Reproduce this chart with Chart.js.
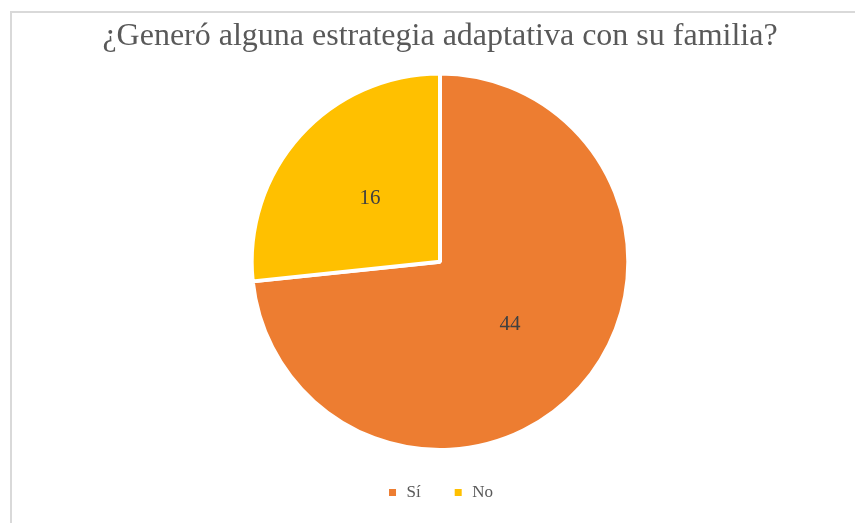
<!DOCTYPE html>
<html>
<head>
<meta charset="utf-8">
<script src="https://cdn.jsdelivr.net/npm/chart.js@4.4.0/dist/chart.umd.min.js"></script>
<style>
    html, body { margin: 0; padding: 0; background: #fff; overflow: hidden; }
    #frame {
        position: absolute;
        left: 10px;
        top: 11px;
        width: 860px;
        height: 520px;
        border-top: 2px solid #d9d9d9;
        border-left: 2px solid #d9d9d9;
    }
    #chart { display: block; }
</style>
</head>
<body>
<div id="frame"><canvas id="chart" width="860" height="511"></canvas></div>
<script>
const labels = ['Sí', 'No'];
const counts = [44, 16];
const sliceColors = ['#ED7D31', '#FFC000'];

// writes each count in the middle of its slice
const sliceValues = {
    id: 'sliceValues',
    afterDatasetsDraw(chart) {
        const ctx = chart.ctx;
        const meta = chart.getDatasetMeta(0);
        ctx.save();
        ctx.font = '21px "Liberation Serif", "Times New Roman", serif';
        ctx.fillStyle = '#404040';
        ctx.textAlign = 'center';
        ctx.textBaseline = 'middle';
        meta.data.forEach((arc, i) => {
            const p = arc.getProps(['x', 'y', 'startAngle', 'endAngle', 'outerRadius']);
            const mid = (p.startAngle + p.endAngle) / 2;
            const r = p.outerRadius * 0.5;
            ctx.fillText(String(counts[i]), p.x + Math.cos(mid) * r, p.y + Math.sin(mid) * r);
        });
        ctx.restore();
    }
};

new Chart(document.getElementById('chart'), {
    type: 'pie',
    data: {
        labels: labels,
        datasets: [{
            data: counts,
            backgroundColor: sliceColors,
            borderColor: '#ffffff',
            borderWidth: 4
        }]
    },
    options: {
        responsive: false,
        animation: false,
        layout: { padding: { top: 0, bottom: 13, right: 4 } },
        plugins: {
            title: {
                display: true,
                text: '¿Generó alguna estrategia adaptativa con su familia?',
                color: '#595959',
                font: { family: '"Liberation Serif", "Times New Roman", serif', size: 32, weight: 'normal' },
                padding: { top: 4, bottom: 16 }
            },
            legend: {
                position: 'bottom',
                labels: {
                    color: '#595959',
                    font: { family: '"Liberation Serif", "Times New Roman", serif', size: 17 },
                    boxWidth: 11,
                    boxHeight: 11,
                    padding: 32
                }
            },
            tooltip: { enabled: false }
        }
    },
    plugins: [sliceValues]
});
</script>
</body>
</html>
